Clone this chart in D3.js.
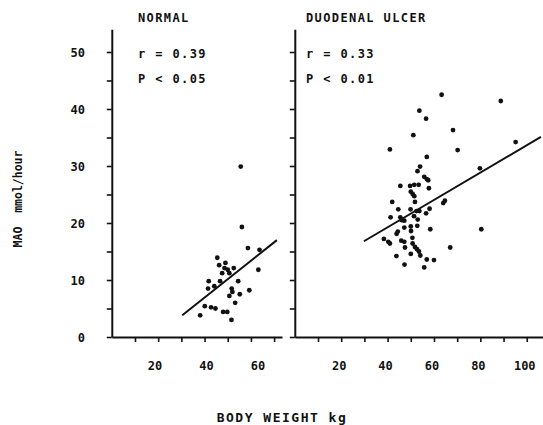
<!DOCTYPE html>
<html>
<head>
<meta charset="utf-8">
<script src="https://cdn.jsdelivr.net/npm/d3@7"></script>
<style>
  body { margin: 0; background: #fff; }
  svg { display: block; }
  text { font-family: 'DejaVu Sans Mono', monospace; font-weight: bold; fill: #111; }
  .axis path, .axis line { stroke: #111; }
</style>
</head>
<body>
<svg id="chart" width="543" height="425"></svg>
<script>
// body weight (kg) / MAO (mmol/hour)
const normalWeight = [55.6, 56.1, 58.7, 63.7, 45.5, 46.3, 49.0, 48.6, 47.6, 50.0, 50.7, 52.6, 63.2, 41.8, 46.7, 54.5,
  44.2, 41.5, 51.7, 52.0, 55.2, 59.3, 50.7, 53.2, 40.1, 42.8, 44.7, 48.0, 49.8, 38.1, 51.6]
const normalMao = [29.9, 19.3, 15.6, 15.3, 13.9, 12.6, 13.0, 12.1, 11.2, 11.8, 11.2, 12.1, 11.8, 9.8, 9.8, 9.8,
  8.9, 8.5, 8.5, 7.9, 7.5, 8.2, 7.2, 6.0, 5.4, 5.2, 5.0, 4.4, 4.4, 3.8, 3.0]
const ulcerWeight = [63.3, 88.8, 53.7, 56.6, 68.2, 51.1, 95.2, 41.0, 70.2, 56.9, 54.0, 79.8, 52.9, 55.8, 56.9, 57.5,
  45.5, 49.7, 51.5, 53.4, 57.8, 50.0, 50.8, 51.5, 42.0, 51.8, 64.7, 64.0, 44.6, 49.9, 58.1, 52.5,
  53.7, 56.6, 41.3, 45.5, 46.1, 47.2, 51.4, 53.0, 47.2, 50.0, 50.1, 52.8, 58.4, 80.4, 44.4, 43.9,
  38.4, 40.3, 41.0, 45.9, 47.2, 50.7, 50.8, 51.8, 52.7, 53.5, 47.5, 67.0, 43.8, 50.0, 54.1, 56.9,
  60.0, 47.3, 55.8]
const ulcerMao = [42.5, 41.4, 39.7, 38.3, 36.3, 35.4, 34.2, 32.9, 32.8, 31.6, 29.9, 29.6, 29.1, 28.1, 27.7, 27.5,
  26.5, 26.5, 26.7, 26.7, 26.1, 25.5, 25.1, 24.7, 23.7, 23.7, 23.9, 23.5, 22.4, 22.4, 22.5, 22.1,
  22.1, 21.7, 21.0, 21.0, 20.5, 20.4, 21.2, 20.6, 19.2, 19.4, 18.6, 19.5, 18.9, 18.9, 18.5, 18.1,
  17.2, 16.7, 16.4, 16.9, 16.7, 17.4, 16.4, 15.8, 15.4, 15.0, 15.7, 15.7, 14.2, 14.6, 14.3, 13.6,
  13.5, 12.7, 12.2]
// regression lines: [weight, mao] at both ends
const normalFit = [[30.4, 3.8], [71.2, 17.0]]
const ulcerFit = [[29.8, 16.8], [106.1, 35.1]]

const yTicks = [0, 5, 10, 15, 20, 25, 30, 35, 40, 45, 50]
const yLabels = [0, 10, 20, 30, 40, 50]
const normalXTicks = [10, 20, 30, 40, 50, 60, 70]
const normalXLabels = [20, 40, 60]
const ulcerXTicks = [10, 20, 30, 40, 50, 60, 70, 80, 90, 100]
const ulcerXLabels = [20, 40, 60, 80, 100]

const svg = d3.select('#chart')

const y = d3.scaleLinear().domain([0, 54]).range([337, 29.2])

const normalX = d3.scaleLinear().domain([0, 73.4]).range([111.8, 282])
const ulcerX = d3.scaleLinear().domain([0, 107]).range([294.8, 543])

// the typed labels under the left panel sit a little off the tick marks
const panels = [
  { title: 'NORMAL', r: 'r = 0.39', p: 'P < 0.05', x: normalX,
    labelX: d3.scaleLinear().domain([20, 60]).range([155, 258]),
    weight: normalWeight, mao: normalMao, fit: normalFit, ticks: normalXTicks, labels: normalXLabels, textX: 138 },
  { title: 'DUODENAL ULCER', r: 'r = 0.33', p: 'P < 0.01', x: ulcerX,
    labelX: ulcerX.copy().range([292.8, 541]),
    weight: ulcerWeight, mao: ulcerMao, fit: ulcerFit, ticks: ulcerXTicks, labels: ulcerXLabels, textX: 306 }
]

panels.forEach(panel => {
  const x = panel.x
  const g = svg.append('g')

  g.append('g')
    .attr('class', 'axis')
    .attr('transform', `translate(${x.range()[0]}, 0)`)
    .call(d3.axisLeft(y).tickValues(yTicks).tickSize(5).tickSizeOuter(0).tickFormat(''))
    .call(a => a.select('.domain').attr('stroke-width', 2))
    .call(a => a.selectAll('.tick line').attr('stroke-width', 1.6))

  g.append('g')
    .attr('class', 'axis')
    .attr('transform', `translate(0, ${y(0)})`)
    .call(d3.axisBottom(x).tickValues(panel.ticks).tickSize(5).tickSizeOuter(0).tickFormat(''))
    .call(a => a.select('.domain').attr('stroke-width', 2))
    .call(a => a.selectAll('.tick line').attr('stroke-width', 1.6))

  g.selectAll('.xlab')
    .data(panel.labels)
    .enter()
    .append('text')
    .attr('x', d => panel.labelX(d))
    .attr('y', 370)
    .attr('text-anchor', 'middle')
    .attr('font-size', 12)
    .text(d => d)

  g.append('text').attr('x', panel.textX).attr('y', 22).attr('font-size', 12).attr('letter-spacing', 1.4).text(panel.title)
  g.append('text').attr('x', panel.textX).attr('y', 58).attr('font-size', 12).attr('letter-spacing', 1.4).attr('xml:space', 'preserve').text(panel.r)
  g.append('text').attr('x', panel.textX).attr('y', 83).attr('font-size', 12).attr('letter-spacing', 1.4).attr('xml:space', 'preserve').text(panel.p)

  g.append('line')
    .attr('x1', x(panel.fit[0][0]))
    .attr('y1', y(panel.fit[0][1]))
    .attr('x2', x(panel.fit[1][0]))
    .attr('y2', y(panel.fit[1][1]))
    .attr('stroke', '#111')
    .attr('stroke-width', 2)

  g.selectAll('circle')
    .data(panel.weight)
    .enter()
    .append('circle')
    .attr('cx', d => x(d))
    .attr('cy', (d, i) => y(panel.mao[i]))
    .attr('r', 2.4)
    .attr('fill', '#111')
})

svg.selectAll('.ylab')
  .data(yLabels)
  .enter()
  .append('text')
  .attr('x', 85)
  .attr('y', d => y(d) + 5)
  .attr('text-anchor', 'end')
  .attr('font-size', 12)
  .text(d => d)

svg.append('text')
  .attr('transform', 'translate(22, 199) rotate(-90)')
  .attr('text-anchor', 'middle')
  .attr('font-size', 11.5)
  .attr('xml:space', 'preserve')
  .text('MAO  mmol/hour')

svg.append('text')
  .attr('x', 282)
  .attr('y', 422)
  .attr('text-anchor', 'middle')
  .attr('font-size', 13)
  .attr('letter-spacing', 1.5)
  .text('BODY WEIGHT kg')
</script>
</body>
</html>
